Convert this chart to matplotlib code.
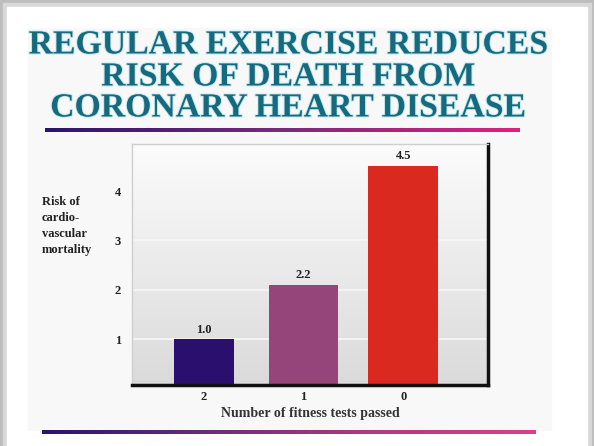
import numpy as np
import matplotlib
matplotlib.use("Agg")
import matplotlib.pyplot as plt
import matplotlib.patheffects as pe
from matplotlib.colors import LinearSegmentedColormap

# ---- data ----
categories = ["2", "1", "0"]
values = [1.0, 2.1, 4.5]
value_labels = ["1.0", "2.2", "4.5"]
bar_colors = ["#2b0f6f", "#96457a", "#da2a1f"]
yticks = [1, 2, 3, 4]
title_lines = ["REGULAR EXERCISE REDUCES", "RISK OF DEATH FROM", "CORONARY HEART DISEASE"]
ylabel_text = "Risk of\ncardio-\nvascular\nmortality"
xlabel_text = "Number of fitness tests passed"

W, H = 594, 446
fig = plt.figure(figsize=(W / 100, H / 100), dpi=100)
fig.patch.set_facecolor("#bdbdbd")

# overlay axes in pixel coordinates
ov = fig.add_axes([0, 0, 1, 1], zorder=0)
ov.axis("off")

# white card with shadow
ov.add_patch(plt.Rectangle((3, 3), W - 6, H, color="#d8d8d8", zorder=0))
ov.add_patch(plt.Rectangle((7, 7), W - 14, H, color="white", zorder=1))
ov.add_patch(plt.Rectangle((28, 28), 523, 402, color="#f8f8f8", zorder=1))

serif = ["Liberation Serif", "DejaVu Serif"]

# title
ys = [45, 77, 108]
for t, y in zip(title_lines, ys):
    ov.text(288, y, t, ha="center", va="center", fontsize=24.3, fontweight="bold",
            family=serif, color="#176a7e", zorder=3,
            path_effects=[pe.withStroke(linewidth=1.4, foreground="#bfe7ee")])

# gradient lines
cmap = LinearSegmentedColormap.from_list("g", ["#2a146e", "#7a2a7c", "#e0207f"])
grad = np.linspace(0, 1, 256).reshape(1, -1)
ov.imshow(grad, cmap=cmap, extent=(45, 520, 132, 128), aspect="auto", zorder=2)
cmap2 = LinearSegmentedColormap.from_list("g2", ["#2a146e", "#6a2d78", "#b03a85", "#d8408a"])
ov.imshow(grad, cmap=cmap2, extent=(42, 536, 434, 430), aspect="auto", zorder=2)
ov.set_xlim(0, W)
ov.set_ylim(H, 0)

# y label
ov.text(42, 196, ylabel_text, ha="left", va="top", fontsize=9, fontweight="bold", family=serif,
        color="#222222", linespacing=1.45, zorder=3)

# main chart axes
left, right, top, bottom = 132, 488, 144, 385
ax = fig.add_axes([left / W, 1 - bottom / H, (right - left) / W, (bottom - top) / H], zorder=2)
x = np.arange(len(categories))
ax.set_xlim(-0.72, 2.85)
ax.set_ylim(0.08, 4.95)

bg = np.linspace(0, 1, 256).reshape(-1, 1)
bgcmap = LinearSegmentedColormap.from_list("bg", ["#dadada", "#fcfcfc"])
ax.imshow(bg, cmap=bgcmap, extent=(-0.72, 2.85, 0.08, 4.95), aspect="auto", zorder=0, origin="lower")
for yt in yticks:
    ax.axhline(yt, color="#f6f6f6", lw=1.2, zorder=1)

bars = ax.bar(x, values, width=[0.6, 0.7, 0.7], color=bar_colors, zorder=2, bottom=0)
for b, lab in zip(bars, value_labels):
    ax.text(b.get_x() + b.get_width() / 2, b.get_height() + 0.08, lab, ha="center", va="bottom",
            fontsize=9, fontweight="bold", family=serif, color="#222222")

ax.set_xticks(x)
ax.set_xticklabels(categories, family=serif, fontsize=9, fontweight="bold", color="#222222")
ax.set_yticks(yticks)
ax.set_yticklabels([str(v) for v in yticks], family=serif, fontsize=9, fontweight="bold", color="#222222")
ax.tick_params(length=0, pad=8)
ax.tick_params(axis="x", pad=4)
ax.set_xlabel(xlabel_text, family=serif, fontsize=10, fontweight="bold", color="#333333", labelpad=3)

for s in ["top", "left"]:
    ax.spines[s].set_color("#cfcfcf")
    ax.spines[s].set_linewidth(1)
for s in ["right", "bottom"]:
    ax.spines[s].set_color("#111111")
    ax.spines[s].set_linewidth(2.5)

fig.savefig("out.png", dpi=100, facecolor=fig.get_facecolor())
